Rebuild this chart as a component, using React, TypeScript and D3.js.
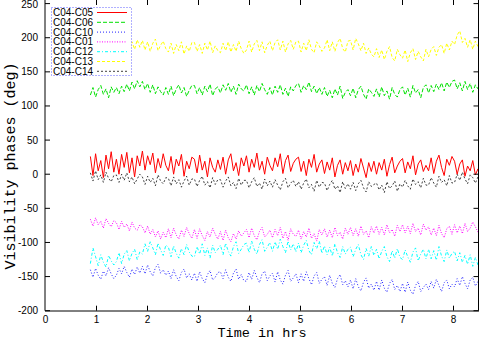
import React from "react";
import * as d3 from "d3";

// sampling: first and last time (hours) of the recorded data
const T_START = 0.88;
const T_END = 8.48;

const xTicks = [0, 1, 2, 3, 4, 5, 6, 7, 8];
const yTicks = [-200, -150, -100, -50, 0, 50, 100, 150, 200, 250];

const c04c05 = [
  26,-2,30,5,20,-5,28,8,33,3, 22,0,29,10,32,2,24,-4,27,12, 34,6,27,14,31,2,23,9,30,13,
  5,26,0,22,12,29,-3,19,8,25, 22,2,28,6,19,-4,24,10,3,21, 7,25,0,21,30,5,17,-2,24,12,
  27,3,22,10,31,6,19,0,25,13, 5,24,11,30,1,20,28,4,16,22, 25,4,19,-2,22,10,29,3,15,21,
  1,18,6,24,-4,13,21,0,17,5, 20,-2,15,3,23,9,-5,17,4,19, 0,17,6,22,-3,14,25,2,12,19,
  23,2,18,8,27,-1,15,21,4,13, 5,24,1,19,28,10,-2,22,13,26, 19,0,15,21,-3,12,5,20,-1,8,
];
const c04c06 = [
  116,127,113,124,130,117,125,112,128,120, 127,118,129,121,132,122,135,125,137,128,
  136,124,133,120,131,118,128,121,116,127, 117,129,115,125,131,119,127,114,123,130,
  130,118,127,116,129,121,132,115,125,128, 119,131,123,133,120,129,117,132,125,122,
  131,118,128,116,130,121,133,124,117,127, 116,129,120,131,117,126,114,128,122,130,
  133,120,130,124,135,121,129,118,127,117, 127,114,123,112,125,116,129,111,120,124,
  115,126,112,124,129,117,110,125,120,114, 125,113,128,115,122,110,127,117,113,124,
  128,116,126,113,130,119,124,112,127,131, 119,130,121,132,124,134,122,135,127,136,
  138,125,134,122,136,124,133,120,131,125,
];
const c04c10 = [
  -140,-151,-138,-148,-154,-142,-149,-137,-146,-153, -148,-138,-146,-135,-144,-151,-139,-147,-136,-145,
  -135,-146,-133,-143,-149,-137,-132,-145,-140,-148, -142,-153,-140,-150,-156,-144,-139,-152,-146,-155,
  -145,-157,-143,-153,-159,-147,-141,-155,-151,-144, -143,-153,-140,-151,-157,-145,-139,-154,-147,-156,
  -157,-144,-154,-141,-151,-159,-146,-142,-156,-149, -145,-158,-143,-155,-161,-148,-141,-157,-152,-146,
  -159,-146,-157,-143,-153,-162,-149,-144,-160,-154, -150,-163,-148,-160,-166,-153,-147,-162,-156,-165,
  -155,-168,-153,-165,-171,-158,-152,-167,-161,-170, -157,-170,-155,-167,-173,-160,-154,-169,-163,-172,
  -160,-173,-158,-170,-176,-163,-157,-172,-166,-161, -169,-157,-167,-154,-163,-172,-159,-155,-168,-161,
  -165,-153,-163,-150,-160,-168,-155,-151,-164,-157,
];
const c04c01 = [
  -66,-76,-64,-74,-69,-79,-65,-72,-77,-68, -71,-81,-69,-78,-73,-83,-70,-79,-82,-74,
  -77,-86,-76,-88,-81,-92,-83,-95,-85,-93, -80,-93,-79,-89,-95,-82,-91,-78,-87,-94,
  -81,-94,-80,-90,-97,-84,-92,-79,-88,-95, -84,-97,-82,-93,-99,-87,-95,-83,-91,-86,
  -81,-93,-79,-90,-96,-84,-78,-92,-88,-82, -93,-81,-90,-78,-94,-84,-97,-80,-88,-91,
  -82,-95,-84,-92,-79,-94,-87,-98,-81,-89, -80,-92,-82,-93,-78,-90,-85,-95,-79,-88,
  -78,-90,-80,-91,-76,-88,-83,-93,-77,-86, -76,-88,-78,-89,-74,-86,-81,-91,-75,-84,
  -74,-86,-76,-87,-72,-84,-79,-89,-73,-82, -77,-89,-79,-90,-75,-87,-93,-80,-76,-88,
  -74,-86,-76,-87,-72,-84,-79,-70,-77,-85,
];
const c04c12 = [
  -131,-108,-121,-134,-118,-129,-136,-119,-127,-133, -128,-115,-131,-117,-112,-127,-116,-110,-125,-114,
  -117,-102,-113,-99,-108,-118,-101,-111,-119,-104, -107,-121,-105,-116,-123,-109,-118,-103,-114,-120,
  -121,-106,-117,-102,-119,-108,-123,-104,-115,-110, -104,-118,-101,-113,-120,-106,-99,-116,-110,-103,
  -101,-115,-98,-110,-117,-103,-96,-113,-107,-100, -113,-99,-110,-95,-106,-115,-98,-111,-102,-114,
  -101,-115,-104,-97,-112,-118,-100,-109,-98,-116, -105,-118,-107,-120,-102,-115,-122,-106,-117,-110,
  -107,-121,-110,-103,-118,-125,-109,-120,-106,-119, -110,-124,-113,-106,-121,-128,-112,-123,-109,-122,
  -125,-111,-121,-129,-114,-108,-127,-117,-110,-124, -110,-124,-112,-126,-106,-120,-128,-111,-123,-116,
  -113,-127,-115,-129,-119,-132,-118,-135,-122,-133,
];
const c04c13 = [
  178,190,175,187,193,179,189,176,192,182, 189,177,191,180,190,178,194,183,197,186,
  196,182,194,180,192,198,181,189,195,184, 179,192,177,190,181,194,176,188,180,193,
  193,180,190,177,192,182,195,178,188,181, 178,192,181,194,179,190,180,195,184,177,
  182,195,179,191,196,181,194,178,189,195, 181,193,197,182,195,179,191,196,183,194,
  195,179,192,181,197,183,178,194,188,180, 185,197,181,194,180,193,199,184,179,195,
  196,182,199,191,181,192,177,185,176,172, 184,171,182,168,180,187,171,166,183,175,
  170,182,165,178,184,168,180,172,166,183, 172,183,187,174,186,190,177,192,182,195,
  190,204,210,193,199,186,197,183,195,187,
];
const c04c14 = [
  2,-10,5,-8,-1,-12,3,-6,-11,-2, -1,-12,0,-9,2,-11,-4,-14,-7,0,
  -4,-15,-3,-12,-6,-17,-1,-10,-14,-5, -6,-17,-4,-14,-8,-19,-10,-3,-16,-7,
  -7,-18,-9,-3,-16,-11,-20,-5,-15,-8, -8,-19,-10,-4,-17,-12,-21,-6,-16,-9,
  -9,-20,-11,-5,-18,-13,-22,-7,-17,-10, -19,-8,-16,-23,-11,-6,-20,-13,-9,-18,
  -11,-22,-13,-7,-20,-15,-25,-9,-19,-12, -13,-24,-15,-9,-22,-17,-27,-11,-21,-14,
  -22,-12,-24,-14,-9,-20,-26,-11,-18,-15, -13,-23,-16,-27,-11,-21,-17,-10,-25,-14,
  -19,-9,-17,-22,-7,-15,-11,-20,-6,-16, -16,-5,-13,-19,-3,-12,-8,-17,-2,-13,
  -12,0,-9,3,-7,-14,-1,-5,-13,-4,
];

const seriesNames = ["C04-C05", "C04-C06", "C04-C10", "C04-C01", "C04-C12", "C04-C13", "C04-C14"];
const seriesValues = [c04c05, c04c06, c04c10, c04c01, c04c12, c04c13, c04c14];
const seriesColors = ["#ff0000", "#00e000", "#2020ff", "#ff00ff", "#00ffff", "#ffff00", "#000000"];
const seriesDash = ["", "4,2", "1,2", "1,1.5", "3,2,1,2", "3,2", "2,2"];

const W = 479;
const H = 339;

export default function App() {
  const x = d3.scaleLinear().domain([0, 8.5]).range([45.5, 479]);
  const y = d3.scaleLinear().domain([-200, 250]).range([310.7, 3.6]);
  const left = 45;
  const right = 478.5;
  const bottom = 310.7;
  const top = 0.5;

  const line = d3
    .line<[number, number]>()
    .x((d) => x(d[0]))
    .y((d) => y(d[1]));

  const toPts = (vals: number[]): [number, number][] => {
    const step = (T_END - T_START) / (vals.length - 1);
    return vals.map((v, i) => [T_START + i * step, v]);
  };

  const tickFont = "'Liberation Sans', Arial, sans-serif";
  const monoFont = "'Liberation Mono', 'DejaVu Sans Mono', monospace";

  return (
    <svg width={W} height={H} style={{ position: "absolute", left: 0, top: 0, background: "#fff" }}>
      <defs>
        <clipPath id="plotclip">
          <rect x={left} y={top} width={right - left} height={bottom - top} />
        </clipPath>
      </defs>
      <rect x={0} y={0} width={W} height={H} fill="#fff" />

      <g clipPath="url(#plotclip)">
        {seriesValues.map((vals, k) => (
          <path
            key={seriesNames[k]}
            d={line(toPts(vals)) || ""}
            fill="none"
            stroke={seriesColors[k]}
            strokeWidth={1}
            strokeDasharray={seriesDash[k] || undefined}
            opacity={k === 6 ? 0.75 : 1}
          />
        ))}
      </g>

      {/* frame */}
      <line x1={left} x2={left} y1={0} y2={bottom} stroke="#000" strokeWidth={1} />
      <line x1={left} x2={W} y1={bottom + 0.3} y2={bottom + 0.3} stroke="#000" strokeWidth={1} />
      <line x1={right} x2={right} y1={0} y2={bottom} stroke="#000" strokeWidth={1} />

      {/* x ticks */}
      {xTicks.map((t) => (
        <g key={"xt" + t}>
          {t > 0 && (
            <>
              <line x1={x(t)} x2={x(t)} y1={bottom} y2={bottom - 5} stroke="#000" strokeWidth={1} />
              <line x1={x(t)} x2={x(t)} y1={0} y2={5} stroke="#000" strokeWidth={1} />
            </>
          )}
          <text x={x(t)} y={323} fontSize={10} fontFamily={tickFont} textAnchor="middle" fill="#000">
            {t}
          </text>
        </g>
      ))}

      {/* y ticks */}
      {yTicks.map((t) => (
        <g key={"yt" + t}>
          <line x1={left} x2={left + 5} y1={y(t)} y2={y(t)} stroke="#000" strokeWidth={1} />
          <line x1={right - 5} x2={right} y1={y(t)} y2={y(t)} stroke="#000" strokeWidth={1} />
          <text x={38} y={Math.max(y(t) + 3.5, 8)} fontSize={10} fontFamily={tickFont} textAnchor="end" fill="#000">
            {t}
          </text>
        </g>
      ))}

      {/* axis titles */}
      <text x={262} y={336.5} fontSize={13.5} fontFamily={monoFont} textAnchor="middle" fill="#000">
        Time in hrs
      </text>
      <text
        x={0}
        y={0}
        transform="translate(15,166) rotate(-90)"
        fontSize={15}
        fontFamily={monoFont}
        textAnchor="middle"
        fill="#000"
      >
        Visibility phases (deg)
      </text>

      {/* legend */}
      <rect x={51.5} y={7.5} width={80} height={68} fill="#fff" stroke="#6060ff" strokeWidth={1} strokeDasharray="1,2" />
      {seriesNames.map((n, k) => (
        <g key={"lg" + n}>
          <text x={53} y={16 + k * 9.8} fontSize={10} fontFamily={tickFont} fill="#000">
            {n}
          </text>
          <line
            x1={97}
            x2={127}
            y1={12.5 + k * 9.8}
            y2={12.5 + k * 9.8}
            stroke={seriesColors[k]}
            strokeWidth={1}
            strokeDasharray={seriesDash[k] || undefined}
            opacity={k === 6 ? 0.75 : 1}
          />
        </g>
      ))}
    </svg>
  );
}
